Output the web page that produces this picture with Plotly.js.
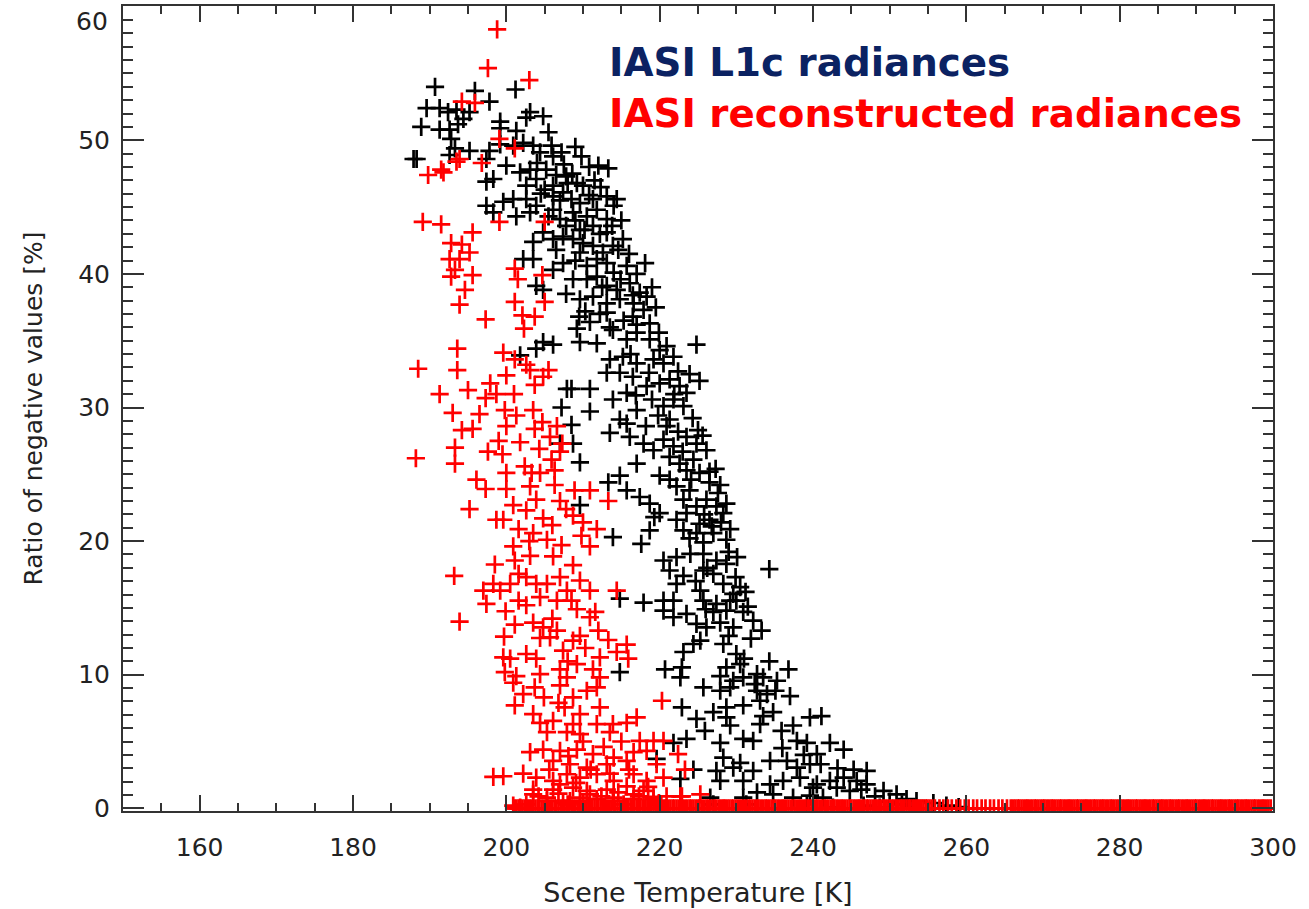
<!DOCTYPE html>
<html>
<head>
<meta charset="utf-8">
<script src="https://cdn.plot.ly/plotly-3.0.1.min.js"></script>
<style>
html,body{margin:0;padding:0;background:#ffffff;}
#chart{width:1309px;height:909px;}
</style>
</head>
<body>
<div id="chart"></div>
<script>
// IASI L1c radiances (black crosses): scene temperature [K] and ratio of negative values [%]
const l1cTemp = [
190.7,195.9,201.2,197.8,189.6,191.3,192.4,193.5,195.2,194.4,
188.9,191.3,192.6,193.7,199.2,199.2,202.6,203.1,204.8,201.3,
205.5,192.8,193.3,195.2,192.6,188.3,187.9,197.4,197.8,199.2,
200.9,202.2,203.5,204.4,206.1,207.2,209.8,212.0,213.3,197.4,
198.3,200.0,201.8,203.1,203.9,202.6,205.2,206.5,207.8,206.1,
209.2,210.0,197.4,198.3,199.6,200.9,202.6,203.9,201.3,203.1,
206.1,207.4,208.5,209.6,211.3,213.1,214.4,206.1,207.0,208.7,
210.5,211.8,213.1,214.0,207.8,209.6,211.3,213.1,214.6,203.5,
204.8,206.1,207.4,208.7,210.0,211.3,212.6,213.9,202.2,203.5,
206.1,207.4,209.6,210.5,211.8,213.1,214.0,215.7,218.1,203.9,
204.8,208.7,210.5,211.8,213.1,214.4,216.1,217.4,209.6,211.3,
213.1,214.8,216.6,218.3,209.5,210.9,209.2,209.6,211.8,204.8,
206.1,203.9,201.8,207.9,208.5,210.9,207.2,210.9,208.5,207.0,
208.7,209.6,209.6,214.8,217.9,214.8,219.6,224.8,225.2,213.1,
216.5,217.9,218.7,213.9,215.7,217.0,218.7,220.0,220.9,213.5,
215.2,217.0,219.2,220.5,213.1,214.8,216.5,218.3,220.0,221.3,
222.6,223.5,213.9,215.7,217.0,219.0,220.5,221.8,223.1,214.8,
215.7,221.3,220.9,225.0,213.5,216.1,217.9,219.2,220.5,221.8,
223.5,224.8,226.1,217.0,220.0,221.3,222.6,224.4,223.5,225.2,
226.5,213.3,214.8,215.7,217.4,221.3,222.2,223.9,226.5,227.6,
228.7,218.7,223.1,224.8,226.1,227.4,220.0,219.3,222.2,223.5,
225.2,226.5,228.3,218.7,223.1,224.8,227.0,213.9,217.6,223.9,
225.7,228.7,220.5,222.2,224.0,225.7,227.4,228.7,234.3,221.3,
223.1,225.7,227.0,222.2,225.3,228.3,229.6,230.5,220.5,221.8,
225.7,227.4,229.2,230.0,220.5,223.5,227.0,228.7,230.9,232.2,
221.8,224.8,226.1,227.9,229.6,233.3,225.3,224.4,228.3,223.1,
230.0,230.5,228.7,220.7,222.9,222.7,227.9,229.6,230.9,232.7,
233.5,235.3,236.8,225.7,227.9,229.2,232.7,234.0,235.1,237.0,
233.1,222.9,227.0,228.7,230.9,234.8,224.8,228.7,233.5,239.6,
241.1,225.9,229.2,233.1,235.9,237.4,221.8,223.5,227.9,230.9,
232.2,237.9,239.2,242.2,244.0,240.5,228.3,230.5,234.4,236.6,
237.9,239.6,224.4,227.4,229.6,232.2,222.7,227.9,230.9,234.4,
236.1,238.3,240.5,242.2,244.0,245.7,247.0,243.1,244.8,247.0,
249.2,250.9,226.6,230.9,232.7,234.8,237.4,239.6,241.3,252.2,
253.5,255.7,227.0,231.3,239.2,242.6,246.6,248.7,257.4,259.0,
240.0,
204.0,205.9,207.5,208.6,209.0,210.8,211.5,205.0,207.0,208.0,
210.8,212.3,209.0,205.5,204.5,209.0,210.2,212.2,213.8,215.2,
215.0,216.0,217.0,212.5,214.9,216.5,219.0,210.3,212.2,213.5,
215.3,217.0,219.5,207.8,206.5,216.2,219.9,221.8,222.4,223.9,
221.9,224.3,222.4,223.0,225.6,219.8,218.2,216.9,218.6,224.1,
227.3,227.9,225.8,226.8,228.0,229.2,229.0,230.1,229.9,231.2,
231.5,226.2,224.7,226.0,229.0,231.9,231.0,234.3,232.4,236.0,
238.8,241.0,243.2,245.3,246.3,248.1,250.0,251.6,253.0
];
const l1cRatio = [
54.0,53.7,53.8,52.9,52.4,52.4,52.1,52.3,52.1,51.6,
51.0,50.8,50.8,51.2,51.4,50.9,51.7,52.1,51.8,50.7,
50.6,50.1,49.4,49.2,48.9,48.6,48.6,48.6,49.2,49.7,
49.6,49.8,49.6,49.1,48.8,49.1,48.8,48.1,47.9,46.9,
47.1,48.1,47.6,47.8,47.1,46.6,47.8,47.4,47.3,46.6,
46.8,46.6,45.1,44.6,45.4,45.6,45.6,45.1,44.3,44.6,
45.8,46.1,45.6,45.3,45.6,45.8,45.6,44.8,44.1,44.6,
44.3,44.8,44.1,45.1,43.6,43.3,43.6,43.1,41.8,42.4,
43.1,42.6,42.8,42.6,42.3,42.1,41.6,42.1,41.1,41.1,
40.3,40.8,41.6,40.6,41.1,40.8,40.1,40.6,40.8,39.1,
38.8,39.6,39.6,39.8,39.1,38.8,39.3,38.6,38.1,38.3,
37.8,38.1,37.8,38.3,36.8,36.4,35.9,34.9,34.8,34.9,
34.7,34.4,33.9,31.4,31.4,31.4,30.0,29.7,28.7,27.3,
27.3,25.9,22.7,15.7,15.4,10.2,3.7,34.7,32.0,37.1,
36.8,37.3,36.3,35.8,35.1,35.6,35.1,34.3,34.6,33.6,
33.8,33.3,33.6,33.3,32.6,32.6,32.3,31.6,31.8,32.1,
31.6,31.1,30.6,31.1,29.8,30.6,30.1,30.6,30.1,29.1,
28.8,29.1,28.6,28.3,28.1,27.8,27.3,26.8,27.6,27.1,
27.8,27.3,26.8,25.8,24.9,26.3,25.8,26.1,25.3,25.1,
25.2,24.4,24.9,23.8,23.3,24.6,24.1,23.8,24.4,23.6,
22.8,22.8,23.1,22.6,23.1,22.6,22.1,21.8,21.6,22.1,
21.3,21.6,22.1,20.8,20.8,20.6,20.6,20.3,19.8,20.2,
19.9,20.1,18.55,18.8,19.05,19.05,18.55,18.3,17.9,17.8,
17.4,17.8,17.55,16.8,16.3,16.8,16.05,16.55,15.55,15.55,
15.55,15.3,15.55,15.55,14.8,14.55,14.7,14.8,14.7,14.05,
14.3,13.8,13.55,13.9,13.55,13.3,12.55,12.3,12.3,11.7,
11.55,10.8,10.55,10.4,10.55,9.8,9.9,9.55,9.8,10.05,
9.8,9.55,10.4,9.05,8.8,9.05,8.8,8.55,8.8,8.4,
8.05,7.55,7.2,7.55,7.7,7.2,6.7,6.8,6.9,6.8,
6.9,5.8,6.2,6.3,5.8,6.2,4.9,5.2,4.9,5.2,
5.05,5.05,4.9,4.9,4.4,4.05,3.8,3.4,3.55,3.55,
3.05,3.3,2.9,2.8,3.05,2.8,2.2,2.05,2.05,1.8,
2.05,2.3,1.8,2.05,2.3,2.05,2.8,1.55,1.3,1.8,
1.3,1.05,0.8,0.8,1.2,1.05,0.8,0.95,0.8,0.7,
0.55,0.4,0.3,0.3,0.3,0.05,0.2,0.05,0.2,0.1,
1.55,
48.3,49.6,48.2,47.5,49.5,48.0,47.0,46.3,45.5,46.8,
45.9,46.5,44.0,44.3,46.0,41.0,43.3,43.0,43.6,42.6,
44.0,41.5,40.0,39.0,39.6,38.4,39.0,37.2,37.0,36.0,
36.5,36.2,37.5,38.5,41.8,34.0,35.6,33.8,32.7,32.5,
31.0,29.2,28.2,26.7,27.9,29.4,28.6,30.9,32.6,24.6,
25.4,24.2,22.0,21.1,21.4,20.9,19.2,18.8,17.3,16.2,
15.1,18.0,17.0,14.9,12.9,12.7,11.2,11.0,9.3,4.5,
4.0,3.3,3.0,2.9,1.4,0.9,0.5,0.3,0.1
];

// IASI reconstructed radiances (red crosses)
const recTemp = [
198.8,197.6,203.0,194.2,195.9,199.1,201.1,193.5,193.9,191.5,
191.8,189.8,196.8,199.1,205.0,189.1,191.5,195.6,192.8,194.2,
195.2,192.6,193.9,193.3,192.8,195.6,194.6,193.9,201.1,201.5,
204.7,201.1,205.0,
197.3,202.1,203.7,202.3,193.6,188.5,193.6,199.6,201.1,202.6,
203.1,205.5,200.0,204.8,203.7,197.9,191.3,195.0,198.7,197.3,
193.0,199.8,201.3,203.5,194.2,195.6,200.0,203.7,204.7,206.6,
205.7,201.8,207.3,207.0,193.3,188.2,197.6,199.5,205.9,193.3,
202.4,200.0,206.3,203.3,204.4,196.1,197.3,200.0,203.1,203.9,
208.9,210.9,207.0,213.3,195.2,200.9,202.6,198.7,199.6,201.6,
204.8,208.7,210.0,211.8,209.8,203.5,205.3,200.9,207.2,210.9,
198.5,201.1,203.1,206.1,208.7,193.2,197.0,198.3,199.2,200.5,
201.6,202.6,203.9,205.3,207.0,207.9,209.6,210.9,201.6,202.6,
204.4,206.6,208.5,214.4,197.4,199.9,193.9,210.9,211.6,201.1,
203.5,204.8,206.6,204.4,205.7,199.7,208.7,209.6,212.0,213.3,
215.7,207.4,202.6,199.6,200.5,203.9,214.4,215.9,212.2,209.2,
211.3,207.0,199.8,201.3,204.4,207.9,212.2,200.9,203.7,207.0,
210.5,202.2,211.8,208.7,201.1,207.6,212.2,220.3,203.5,209.6,
204.4,206.1,208.7,211.8,213.9,215.7,217.0,205.3,207.9,209.6,
213.5,217.4,219.2,220.5,203.1,204.8,207.0,209.2,211.3,214.0,
216.6,218.3,206.1,208.3,210.5,213.1,215.7,219.6,198.3,199.6,
202.2,203.9,206.1,207.9,209.6,211.8,214.0,216.6,218.3,220.5,
203.5,206.1,208.7,210.5,213.1,215.7,217.9,209.6,211.8,214.0,
216.6,219.2,205.3,207.4,200.9,202.6,
222.4,223.3,222.9,225.3,201.8,203.5,205.3,208.3,210.9,213.9,
216.6,219.2,220.9,222.7,
204.2,206.8,208.0,209.1,210.0,211.0,212.4,213.5,214.6,215.3,
216.0,217.3,218.5,219.9,205.6,207.0,208.1,210.0,212.7,215.0,
206.8,204.9,208.0,210.3,206.0,209.2,203.0,206.0,207.8,206.3,
204.3,201.0,199.0,196.5
];
const recRatio = [
58.3,55.4,54.5,52.9,52.8,50.1,49.4,48.4,48.6,47.8,
47.6,47.4,48.3,43.9,43.9,43.9,43.7,43.1,42.3,42.2,
41.6,41.1,41.1,40.3,39.8,39.9,38.8,37.7,40.4,39.6,
39.9,37.9,37.9,
36.6,36.9,36.8,35.9,34.4,32.9,32.8,34.1,33.6,33.2,
32.8,32.8,32.4,32.3,31.7,31.8,31.0,31.3,31.0,30.7,
29.6,29.8,29.4,29.8,28.3,28.4,28.6,28.4,28.9,28.6,
27.8,27.4,27.3,26.7,27.0,26.2,26.7,26.5,26.1,25.8,
25.6,25.1,25.3,25.1,25.1,24.6,23.9,23.9,24.1,23.1,
23.8,23.8,23.0,23.0,22.4,22.7,22.3,21.6,21.6,20.9,
21.7,21.9,21.4,20.9,20.4,20.6,20.1,19.6,19.7,19.6,
18.25,18.55,18.9,18.85,18.2,17.4,16.3,16.8,16.3,16.8,
17.55,17.3,16.8,16.8,17.3,16.3,17.05,16.3,15.55,15.2,
15.8,15.55,15.55,16.3,15.3,14.75,13.97,14.3,14.7,13.75,
13.9,13.55,13.3,12.75,12.8,12.85,12.55,12.9,13.3,12.6,
12.25,11.8,11.55,11.3,11.2,11.2,11.7,11.2,11.3,10.8,
10.4,10.4,10.2,9.9,10.05,9.8,9.8,9.4,9.05,9.2,
8.8,8.55,9.05,8.3,7.7,7.55,7.55,8.05,7.05,7.05,
6.4,6.55,6.3,6.3,6.3,6.4,6.8,5.7,5.7,5.55,
5.7,5.05,5.05,5.05,4.2,4.4,4.3,4.4,4.05,3.8,
4.2,4.3,3.55,3.3,3.05,3.3,3.55,3.3,2.35,2.4,
2.6,2.3,2.05,2.55,2.3,2.55,2.05,2.55,2.05,2.3,
1.4,1.4,1.55,1.3,1.4,1.65,1.3,0.8,0.7,0.8,
0.7,0.85,0.55,0.4,0.2,0.3,
4.05,2.9,0.9,1.05,0.05,1.05,0.8,0.55,1.05,0.55,
1.05,0.7,0.9,0.9,
0.9,1.1,0.3,1.9,0.4,2.9,0.9,2.6,1.2,0.3,
2.9,0.9,1.6,0.4,2.9,1.8,3.9,5.0,4.6,5.0,
7.9,8.3,11.0,12.0,14.2,14.9,20.0,21.2,22.4,24.2,
26.9,31.0,27.5,29.5
];

// reconstructed radiances with no negative values (dense row along 0 %)
const recZeroTemp = [
201.0,201.3,201.6,201.8,202.1,202.4,202.7,203.0,203.2,203.5,
203.8,204.1,204.3,204.6,204.9,205.2,205.4,205.7,206.0,206.3,
206.5,206.8,207.1,207.4,207.6,207.9,208.2,208.5,208.7,209.0,
209.3,209.6,209.8,210.1,210.4,210.7,210.9,211.2,211.5,211.8,
212.0,212.3,212.6,212.9,213.1,213.4,213.7,214.0,214.2,214.5,
214.8,215.1,215.3,215.6,215.9,216.2,216.4,216.7,217.0,217.3,
217.5,217.8,218.1,218.4,218.6,218.9,219.2,219.5,219.7,220.0,
220.3,220.6,220.8,221.1,221.4,221.7,221.9,222.2,222.5,222.8,
223.0,223.3,223.6,223.9,224.1,224.4,224.7,225.0,225.2,225.5,
225.8,226.1,226.3,226.6,226.9,227.2,227.4,227.7,228.0,228.3,
228.5,228.8,229.1,229.4,229.6,229.9,230.2,230.5,230.7,231.0,
231.3,231.6,231.8,232.1,232.4,232.7,232.9,233.2,233.5,233.8,
234.0,234.3,234.6,234.9,235.1,235.4,235.7,236.0,236.2,236.5,
236.8,237.1,237.3,237.6,237.9,238.2,238.4,238.7,239.0,239.3,
239.5,239.8,240.1,240.4,240.6,240.9,241.2,241.5,241.7,242.0,
242.3,242.6,242.8,243.1,243.4,243.7,243.9,244.2,244.5,244.8,
245.0,245.3,245.6,245.9,246.1,246.4,246.7,247.0,247.2,247.5,
247.8,248.1,248.3,248.6,248.9,249.2,249.4,249.7,250.0,250.3,
250.5,250.8,251.1,251.4,251.6,251.9,252.2,252.5,252.7,253.0,
253.3,253.6,253.8,254.1,254.4,254.7,254.9,255.2,255.5,
255.9,256.5,257.0,257.6,258.1,258.7,259.2,259.8,260.3,260.9,
261.4,262.0,262.5,263.1,263.6,264.2,264.7,265.3,265.8,
266.1,266.4,266.7,266.9,267.2,267.5,267.8,268.0,268.3,268.6,
268.9,269.1,269.4,269.7,270.0,270.2,270.5,270.8,271.1,271.3,
271.6,271.9,272.2,272.4,272.7,273.0,273.3,273.5,273.8,274.1,
274.4,274.6,274.9,275.2,275.5,275.7,276.0,276.3,276.6,276.8,
277.1,277.4,277.7,277.9,278.2,278.5,278.8,279.0,279.3,279.6,
279.9,280.1,280.4,280.7,281.0,281.2,281.5,281.8,282.1,282.3,
282.6,282.9,283.2,283.4,283.7,284.0,284.3,284.5,284.8,285.1,
285.4,285.6,285.9,286.2,286.5,286.7,287.0,287.3,287.6,287.8,
288.1,288.4,288.7,288.9,289.2,289.5,289.8,290.0,290.3,290.6,
290.9,291.1,291.4,291.7,292.0,292.2,292.5,292.8,293.1,293.3,
293.6,293.9,294.2,294.4,294.7,295.0,295.3,295.5,295.8,296.1,
296.4,296.6,296.9,297.2,297.5,297.7,298.0,298.3,298.6,298.8,
299.1,299.4,299.7
];
const recZeroRatio = [
0,0,0,0,0,0,0,0,0,0, 0,0,0,0,0,0,0,0,0,0, 0,0,0,0,0,0,0,0,0,0,
0,0,0,0,0,0,0,0,0,0, 0,0,0,0,0,0,0,0,0,0, 0,0,0,0,0,0,0,0,0,0,
0,0,0,0,0,0,0,0,0,0, 0,0,0,0,0,0,0,0,0,0, 0,0,0,0,0,0,0,0,0,0,
0,0,0,0,0,0,0,0,0,0, 0,0,0,0,0,0,0,0,0,0, 0,0,0,0,0,0,0,0,0,0,
0,0,0,0,0,0,0,0,0,0, 0,0,0,0,0,0,0,0,0,0, 0,0,0,0,0,0,0,0,0,0,
0,0,0,0,0,0,0,0,0,0, 0,0,0,0,0,0,0,0,0,0, 0,0,0,0,0,0,0,0,0,0,
0,0,0,0,0,0,0,0,0,0, 0,0,0,0,0,0,0,0,0,0, 0,0,0,0,0,0,0,0,0,0,
0,0,0,0,0,0,0,0,0,0, 0,0,0,0,0,0,0,0,0,0, 0,0,0,0,0,0,0,0,0,0,
0,0,0,0,0,0,0,0,0,0, 0,0,0,0,0,0,0,0,0,0, 0,0,0,0,0,0,0,0,0,0,
0,0,0,0,0,0,0,0,0,0, 0,0,0,0,0,0,0,0,0,0, 0,0,0,0,0,0,0,0,0,0,
0,0,0,0,0,0,0,0,0,0, 0,0,0,0,0,0,0,0,0,0, 0,0,0,0,0,0,0,0,0,0,
0,0,0,0,0,0,0,0,0,0, 0
];

const seriesNames = ['IASI L1c radiances', 'IASI reconstructed radiances'];
const xTitle = 'Scene Temperature [K]';
const yTitle = 'Ratio of negative values [%]';
const yTickVals = [0, 10, 20, 30, 40, 50, 60];
const yTickText = ['0', '10', '20', '30', '40', '50', ''];
const yTopLabel = '60';

const BLACK = '#000000';
const RED = '#ff0000';
const NAVY = '#0b2262';
const AXIS = '#333333';
const TXT = '#222222';
const FONT = 'DejaVu Sans, Verdana, sans-serif';

function crossMarker(color) {
  return {symbol: 'cross-thin', size: 13, color: color, line: {color: color, width: 2.7}};
}

const traces = [
  {type: 'scatter', mode: 'markers', name: seriesNames[0], x: l1cTemp, y: l1cRatio,
   marker: crossMarker(BLACK), hoverinfo: 'x+y'},
  {type: 'scatter', mode: 'markers', name: seriesNames[1], x: recZeroTemp, y: recZeroRatio,
   marker: crossMarker(RED), hoverinfo: 'x+y', showlegend: false},
  {type: 'scatter', mode: 'markers', name: seriesNames[1], x: recTemp, y: recRatio,
   marker: crossMarker(RED), hoverinfo: 'x+y'}
];

const layout = {
  width: 1309, height: 909,
  margin: {l: 123, r: 36, t: 6, b: 98, pad: 0},
  paper_bgcolor: '#ffffff', plot_bgcolor: '#ffffff',
  showlegend: false,
  font: {family: FONT, color: TXT},
  xaxis: {
    range: [150, 300], tick0: 0, dtick: 20,
    ticks: 'inside', ticklen: 16, tickwidth: 2, tickcolor: AXIS,
    showline: true, linecolor: AXIS, linewidth: 2, mirror: 'ticks',
    showgrid: false, zeroline: false, automargin: false,
    tickfont: {family: FONT, size: 25, color: TXT},
    ticklabelstandoff: 13,
    minor: {dtick: 5, ticks: 'inside', ticklen: 8, tickwidth: 2, tickcolor: AXIS, showgrid: false},
    title: {text: xTitle, font: {family: FONT, size: 27, color: TXT}, standoff: 22}
  },
  yaxis: {
    range: [-0.2, 60.05], tickmode: 'array', tickvals: yTickVals, ticktext: yTickText,
    ticks: 'inside', ticklen: 21, tickwidth: 2, tickcolor: AXIS,
    showline: true, linecolor: AXIS, linewidth: 2, mirror: 'ticks',
    showgrid: false, zeroline: false, automargin: false,
    tickfont: {family: FONT, size: 25, color: TXT},
    ticklabelstandoff: 6,
    minor: {tick0: 0, dtick: 1, ticks: 'inside', ticklen: 10, tickwidth: 2, tickcolor: AXIS, showgrid: false},
    title: {text: yTitle, font: {family: FONT, size: 25, color: TXT}, standoff: 28}
  },
  annotations: [
    {xref: 'paper', yref: 'paper', x: -0.0115, y: 0.981, xanchor: 'right', yanchor: 'middle',
     text: yTopLabel, showarrow: false,
     font: {family: FONT, size: 25, color: TXT}},
    {xref: 'paper', yref: 'paper', x: 0.421, y: 0.930, xanchor: 'left', yanchor: 'middle',
     text: '<b>' + seriesNames[0] + '</b>', showarrow: false,
     font: {family: FONT, size: 38.8, color: NAVY}},
    {xref: 'paper', yref: 'paper', x: 0.421, y: 0.867, xanchor: 'left', yanchor: 'middle',
     text: '<b>' + seriesNames[1] + '</b>', showarrow: false,
     font: {family: FONT, size: 38.8, color: RED}}
  ]
};

Plotly.newPlot('chart', traces, layout, {staticPlot: true, displayModeBar: false});
</script>
</body>
</html>
